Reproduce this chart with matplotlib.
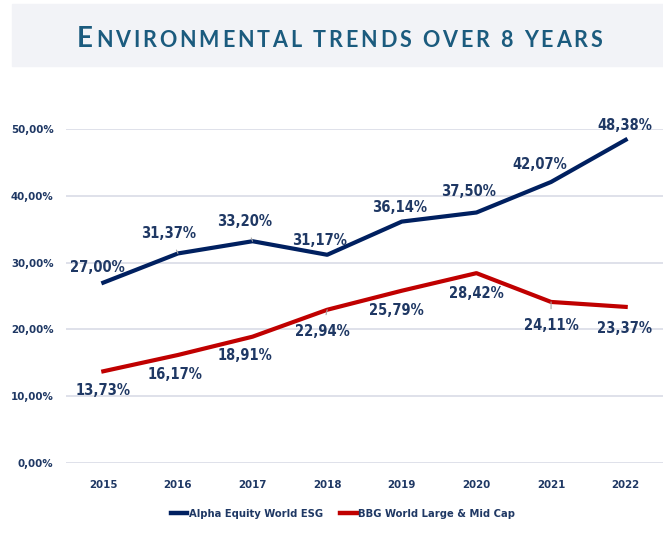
import matplotlib.pyplot as plt
from matplotlib.patches import Rectangle
from matplotlib.font_manager import FontProperties

years = ['2015', '2016', '2017', '2018', '2019', '2020', '2021', '2022']
alpha = [27.00, 31.37, 33.20, 31.17, 36.14, 37.50, 42.07, 48.38]
bbg = [13.73, 16.17, 18.91, 22.94, 25.79, 28.42, 24.11, 23.37]
yticks = [0, 10, 20, 30, 40, 50]

NAVY = '#002060'
RED = '#C00000'
TXT = '#1F3864'
TITLE = '#1B5B7E'
plt.rcParams['font.family'] = ['Liberation Sans Narrow', 'DejaVu Sans']
plt.rcParams['font.stretch'] = 'condensed'

W, H = 663, 533

def pct(v):
  return ('%.2f%%' % v).replace('.', ',')

fig = plt.figure(figsize=(W/100, H/100), dpi=100)

# title banner
fig.patches.append(Rectangle((12/W, 1-66/H), 651/W, 62/H,
                             transform=fig.transFigure, color='#F2F3F7', zorder=0))

# small caps title with letter spacing, laid out char by char
big = FontProperties(family=['Lato', 'DejaVu Sans'], weight='bold', size=20, stretch='normal')
small = FontProperties(family=['Lato', 'DejaVu Sans'], weight='bold', size=15.5, stretch='normal')
chars = [('E', big)] + [(c, small) for c in 'NVIRONMENTAL TRENDS OVER 8 YEARS']
r = fig.canvas.get_renderer()
widths = []
for c, fp in chars:
  if c == ' ':
    widths.append(fp.get_size_in_points() * 100 / 72 * 0.25)
  else:
    widths.append(r.get_text_width_height_descent(c, fp, ismath=False)[0])
x0, x1 = 77, 602
gap = (x1 - x0 - sum(widths)) / (len(chars) - 1)
xp = x0
for (c, fp), w in zip(chars, widths):
  if c != ' ':
    fig.text(xp / W, 1 - 47/H, c, fontproperties=fp, color=TITLE, va='baseline')
  xp += w + gap

ax = fig.add_axes([66/W, 1-463/H, 597/W, 334/H])

x = range(len(years))
ax.plot(x, alpha, color=NAVY, lw=3, label='Alpha Equity World ESG', zorder=3)
ax.plot(x, bbg, color=RED, lw=3, label='BBG World Large & Mid Cap', zorder=3)

# label offsets in pixels
a_off = [(-6, 15), (-9, 20), (-8, 20), (-8, 14), (-2, 14), (-8, 21), (-11, 17), (-1, 14)]
b_off = [(0, -19), (-3, -20), (-8, -19), (-5, -22), (-5, -20), (0, -20), (0, -24), (-1, -22)]
leaders = {('a', 1), ('a', 2), ('b', 3), ('b', 6)}
for key, vals, offs in (('a', alpha, a_off), ('b', bbg, b_off)):
  for i, v in enumerate(vals):
    arrow = None
    if (key, i) in leaders:
      arrow = dict(arrowstyle='-', color='#A6A6A6', lw=0.8, shrinkA=5, shrinkB=0)
    ax.annotate(pct(v), (i, v), xytext=offs[i], textcoords='offset pixels',
                ha='center', va='center', fontsize=10.5, fontweight='bold', color=TXT,
                annotation_clip=False, zorder=4, arrowprops=arrow)

ax.set_xlim(-0.5, len(years) - 0.5)
ax.set_ylim(0, 50)
ax.set_yticks(yticks)
ax.set_yticklabels([pct(v) for v in yticks])
ax.set_xticks(list(x))
ax.set_xticklabels(years)
ax.grid(axis='y', color='#D9DCE6', lw=1.2)
ax.set_axisbelow(True)
for s in ax.spines.values():
  s.set_visible(False)
ax.tick_params(length=0, colors=TXT, labelsize=8.2)
ax.tick_params(axis='x', pad=12)
ax.tick_params(axis='y', pad=9)
for lab in ax.get_xticklabels() + ax.get_yticklabels():
  lab.set_fontweight('bold')

leg = fig.legend(loc='center', bbox_to_anchor=(343/W, 1-514/H), ncol=2, frameon=False,
                 fontsize=8, handlelength=1.5, handletextpad=0.1, columnspacing=1.6)
for t in leg.get_texts():
  t.set_color(TXT)
  t.set_fontweight('bold')
for h in leg.get_lines():
  h.set_linewidth(3.2)

fig.savefig('out.png', dpi=100)
